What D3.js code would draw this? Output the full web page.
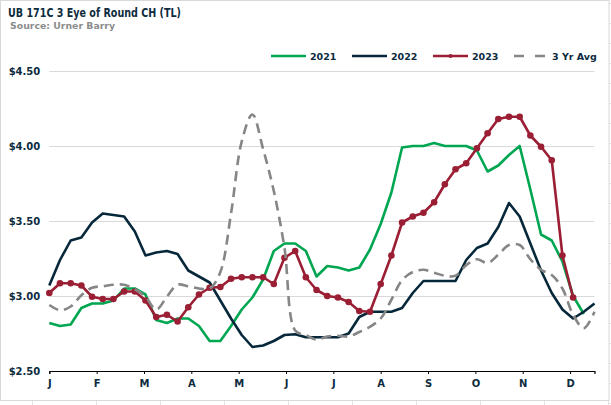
<!DOCTYPE html>
<html>
<head>
<meta charset="utf-8">
<script src="https://cdnjs.cloudflare.com/ajax/libs/d3/7.8.5/d3.min.js"></script>
<style>
  html, body { margin: 0; padding: 0; background: #fff; }
  svg text { font-family: "DejaVu Sans", Verdana, sans-serif; }
</style>
</head>
<body>
<div id="chart"></div>
<script>
// Weekly prices (week 1 = first week of Jan)
const y2021 = [2.82, 2.80, 2.81, 2.92, 2.95, 2.95, 2.97, 3.05, 3.05, 3.01,
  2.84, 2.82, 2.85, 2.85, 2.80, 2.70, 2.70, 2.80, 2.91, 2.99,
  3.11, 3.30, 3.35, 3.35, 3.30, 3.13, 3.20, 3.19, 3.17, 3.19,
  3.31, 3.48, 3.69, 3.99, 4.00, 4.00, 4.02, 4.00, 4.00, 4.00,
  3.97, 3.83, 3.87, 3.94, 4.00, 3.71, 3.41, 3.37, 3.23, 3.00, 2.88];

const y2022 = [3.07, 3.24, 3.37, 3.39, 3.49, 3.55, 3.54, 3.53, 3.43, 3.27,
  3.29, 3.30, 3.28, 3.17, 3.13, 3.09, 2.97, 2.85, 2.74, 2.66,
  2.67, 2.70, 2.74, 2.745, 2.725, 2.725, 2.725, 2.725, 2.75, 2.86,
  2.895, 2.895, 2.895, 2.92, 3.02, 3.10, 3.10, 3.10, 3.10, 3.24,
  3.32, 3.35, 3.46, 3.62, 3.53, 3.35, 3.17, 3.02, 2.91, 2.85, 2.895, 2.95];

const y2023 = [3.02, 3.085, 3.085, 3.07, 2.995, 2.98, 2.98, 3.03, 3.03, 2.97,
  2.86, 2.875, 2.83, 2.925, 3.01, 3.055, 3.06, 3.115, 3.125, 3.125,
  3.125, 3.08, 3.255, 3.30, 3.125, 3.04, 3.00, 2.99, 2.96, 2.90,
  2.895, 3.08, 3.27, 3.49, 3.53, 3.555, 3.625, 3.745, 3.845, 3.885,
  3.985, 4.085, 4.18, 4.195, 4.195, 4.07, 3.995, 3.905, 3.27, 2.99];

const avg3yr = [2.94, 2.905, 2.93, 3.005, 3.055, 3.065, 3.075, 3.075, 3.045, 2.995,
  2.91, 2.995, 3.075, 3.065, 3.05, 3.05, 3.16, 3.55, 4.03, 4.21,
  3.98, 3.70, 3.32, 2.77, 2.74, 2.71, 2.73, 2.735, 2.73, 2.76,
  2.795, 2.85, 2.975, 3.105, 3.16, 3.175, 3.155, 3.135, 3.135, 3.205,
  3.245, 3.22, 3.275, 3.34, 3.34, 3.245, 3.175, 3.14, 3.05, 2.875, 2.785, 2.895];

const monthLabels = ['J', 'F', 'M', 'A', 'M', 'J', 'J', 'A', 'S', 'O', 'N', 'D'];
const yTicks = [2.5, 3.0, 3.5, 4.0, 4.5];

const series = [
  { name: '2021', values: y2021, color: '#00a651' },
  { name: '2022', values: y2022, color: '#07283a' },
  { name: '2023', values: y2023, color: '#9b1f34', dots: true },
  { name: '3 Yr Avg', values: avg3yr, color: '#868686', dashed: true }
];

const width = 611, height = 405;
const navy = '#0d2b3e';

// weekly dates, axis ticks every 31 days like the source chart
const start = new Date(Date.UTC(2023, 0, 1));
const weekDate = i => d3.utcDay.offset(start, 7 * i);
const tickDates = monthLabels.map((m, i) => d3.utcDay.offset(start, 31 * i));

const x = d3.scaleUtc()
  .domain([start, weekDate(51)])
  .range([49.3, 594.5]);

const y = d3.scaleLinear()
  .domain([2.5, 4.5])
  .range([371, 71]);

const svg = d3.select('#chart')
  .append('svg')
  .attr('width', width)
  .attr('height', height);

// spreadsheet cell lines behind the chart
const bg = svg.append('g').attr('stroke', '#e3e3e3').attr('stroke-width', 1);
d3.range(32, 611, 64).forEach(v => {
  bg.append('line').attr('x1', v + 0.5).attr('x2', v + 0.5).attr('y1', 401).attr('y2', 405);
});
d3.range(3, 405, 20).forEach(v => {
  bg.append('line').attr('x1', 609).attr('x2', 611).attr('y1', v + 0.5).attr('y2', v + 0.5);
});

// chart border
svg.append('rect')
  .attr('x', 0.5).attr('y', 0.5)
  .attr('width', 608.5).attr('height', 400)
  .attr('fill', '#fff')
  .attr('stroke', '#d9d9d9');

// titles
svg.append('text')
  .attr('x', 8).attr('y', 17)
  .attr('font-size', 12)
  .attr('font-weight', 'bold')
  .attr('fill', navy)
  .attr('textLength', 173)
  .attr('lengthAdjust', 'spacingAndGlyphs')
  .text('UB 171C 3 Eye of Round CH (TL)');

svg.append('text')
  .attr('x', 10).attr('y', 29)
  .attr('font-size', 9.5)
  .attr('font-weight', 'bold')
  .attr('fill', '#8c8c8c')
  .attr('textLength', 105)
  .attr('lengthAdjust', 'spacingAndGlyphs')
  .text('Source: Urner Barry');

// gridlines + y labels
const yAxis = d3.axisLeft(y)
  .tickValues(yTicks)
  .tickSize(-(594.5 - 49.3))
  .tickPadding(9)
  .tickFormat(d3.format('$.2f'));

const gy = svg.append('g')
  .attr('transform', 'translate(49.3,0)')
  .call(yAxis);
gy.select('.domain').remove();
gy.selectAll('.tick line').attr('stroke', '#d9d9d9').attr('stroke-width', 1);
gy.selectAll('.tick text')
  .attr('font-size', 10)
  .attr('font-weight', 'bold')
  .attr('fill', navy)
  .attr('font-family', '"DejaVu Sans", sans-serif');

// x axis
const xAxis = d3.axisBottom(x)
  .tickValues(tickDates)
  .tickSize(3)
  .tickPadding(6)
  .tickFormat((d, i) => monthLabels[i]);

const gx = svg.append('g')
  .attr('transform', 'translate(0,371)')
  .call(xAxis);
gx.select('.domain').attr('stroke', '#000').attr('stroke-width', 1.2);
gx.selectAll('.tick line').attr('stroke', '#000');
gx.selectAll('.tick text')
  .attr('font-size', 10)
  .attr('font-weight', 'bold')
  .attr('fill', navy)
  .attr('font-family', '"DejaVu Sans", sans-serif');

// lines
series.forEach(s => {
  const line = d3.line()
    .x((d, i) => x(weekDate(i)))
    .y(d => y(d))
    .curve(s.dashed ? d3.curveCatmullRom.alpha(0.5) : d3.curveLinear);

  const path = svg.append('path')
    .datum(s.values)
    .attr('fill', 'none')
    .attr('stroke', s.color)
    .attr('stroke-width', 2.6)
    .attr('stroke-linejoin', 'round')
    .attr('d', line);

  if (s.dashed) path.attr('stroke-dasharray', '10,6');

  if (s.dots) {
    svg.append('g')
      .selectAll('circle')
      .data(s.values)
      .enter()
      .append('circle')
      .attr('cx', (d, i) => x(weekDate(i)))
      .attr('cy', d => y(d))
      .attr('r', 3.3)
      .attr('fill', s.color);
  }
});

// legend
const legendX = [271, 352, 433, 514];
const legend = svg.append('g').attr('transform', 'translate(0,56)');
series.forEach((s, i) => {
  const g = legend.append('g').attr('transform', `translate(${legendX[i]},0)`);
  g.append('line')
    .attr('x1', 0).attr('x2', s.dashed ? 32 : 35)
    .attr('y1', 0).attr('y2', 0)
    .attr('stroke', s.color)
    .attr('stroke-width', 2.6)
    .attr('stroke-dasharray', s.dashed ? '10,11' : null);
  if (s.dots) {
    g.append('circle').attr('cx', 17.5).attr('cy', 0).attr('r', 2).attr('fill', s.color);
  }
  g.append('text')
    .attr('x', s.dashed ? 38 : 39)
    .attr('y', 3.5)
    .attr('font-size', 9.5)
    .attr('font-weight', 'bold')
    .attr('fill', navy)
    .text(s.name);
});
</script>
</body>
</html>
